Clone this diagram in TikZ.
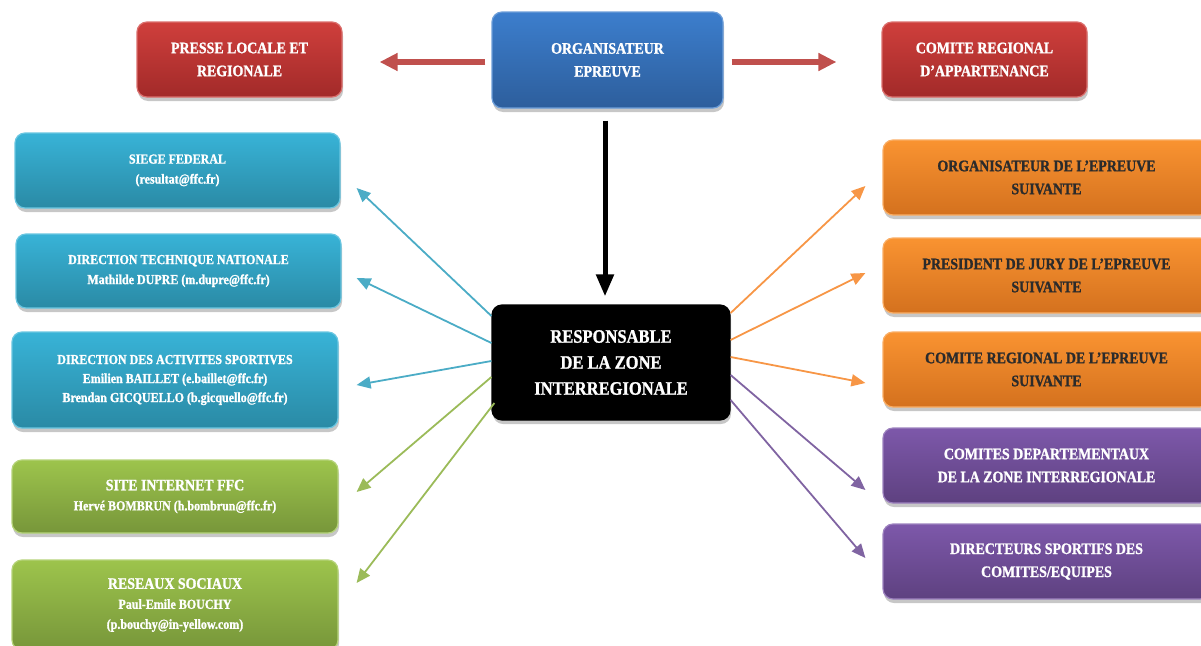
\documentclass[tikz,border=0pt]{standalone}
\usepackage{fontspec}
\setmainfont[FakeStretch=0.87, BoldFeatures={FakeBold=1.2}]{Liberation Serif}
\usetikzlibrary{arrows.meta,shadows,calc}
\definecolor{redT}{HTML}{CF3F3C}\definecolor{redB}{HTML}{A22A29}
\definecolor{bluT}{HTML}{3C7ECD}\definecolor{bluB}{HTML}{2D5E9C}
\definecolor{cyaT}{HTML}{38B3D7}\definecolor{cyaB}{HTML}{2A8AA5}
\definecolor{grnT}{HTML}{9DC44C}\definecolor{grnB}{HTML}{77963A}
\definecolor{oraT}{HTML}{F99331}\definecolor{oraB}{HTML}{D4711E}
\definecolor{purT}{HTML}{7D58AA}\definecolor{purB}{HTML}{5E4180}
\definecolor{aRed}{HTML}{C0504D}\definecolor{aBlue}{HTML}{4BACC6}
\definecolor{aGreen}{HTML}{9BBB59}\definecolor{aOrange}{HTML}{F79646}
\definecolor{aPurple}{HTML}{8064A2}\definecolor{darktext}{HTML}{2B2B2B}
\begin{document}
\begin{tikzpicture}[x=1pt,y=-1pt,
  box/.style={rounded corners=10pt, align=center, inner sep=0pt, text=white,
    line width=1.2pt,
    drop shadow={shadow xshift=1pt, shadow yshift=-4pt, fill=black, opacity=0.22}},
  redbox/.style={box, top color=redT, bottom color=redB, draw=redT!75!white, minimum width=205pt, minimum height=75pt},
  blubox/.style={box, top color=bluT, bottom color=bluB, draw=bluT!75!white},
  cyabox/.style={box, top color=cyaT, bottom color=cyaB, draw=cyaT!75!white, minimum width=326pt},
  grnbox/.style={box, top color=grnT, bottom color=grnB, draw=grnT!75!white, minimum width=326pt},
  orabox/.style={box, top color=oraT, bottom color=oraB, draw=oraT!75!white, minimum width=327pt, minimum height=75pt, text=darktext},
  purbox/.style={box, top color=purT, bottom color=purB, draw=purT!75!white, minimum width=327pt, minimum height=75pt},
  blkbox/.style={box, fill=black, draw=black, minimum width=238pt, minimum height=115pt},
  fbig/.style={font=\bfseries\fontsize{16}{23}\selectfont},
  fsmall/.style={font=\bfseries\fontsize{13.8}{20}\selectfont},
  thin/.style={line width=1.8pt, -{Triangle[length=14pt,width=12pt]}},
  thick/.style={line width=5.5pt, -{Triangle[length=18pt,width=17pt]}},
]
\useasboundingbox (0,0) rectangle (1201,645);

% top row
\node[redbox, fbig] (presse) at (239.5,59.5) {PRESSE LOCALE ET\\REGIONALE};
\node[blubox, fbig, minimum width=231pt, minimum height=96pt] (org) at (607.5,60) {ORGANISATEUR\\EPREUVE};
\node[redbox, fbig] (comite) at (984.5,59.5) {COMITE REGIONAL\\D’APPARTENANCE};

% center
\node[blkbox, font=\bfseries\fontsize{19}{26}\selectfont] (resp) at (611,362.5) {RESPONSABLE\\DE LA ZONE\\INTERREGIONALE};

% left column
\node[cyabox, fsmall, minimum width=325pt, minimum height=75pt] (siege) at (177.5,170.5) {SIEGE FEDERAL\\(resultat@ffc.fr)};
\node[cyabox, fsmall, minimum width=325pt, minimum height=74pt] (dtn) at (178.5,271) {DIRECTION TECHNIQUE NATIONALE\\Mathilde DUPRE (m.dupre@ffc.fr)};
\node[cyabox, font=\bfseries\fontsize{13.8}{19}\selectfont, minimum height=96pt] (das) at (175,380) {DIRECTION DES ACTIVITES SPORTIVES\\Emilien BAILLET (e.baillet@ffc.fr)\\Brendan GICQUELLO (b.gicquello@ffc.fr)};
\node[grnbox, fsmall, minimum height=73pt] (site) at (175,496.5) {{\fontsize{16}{20}\selectfont SITE INTERNET FFC}\\Hervé BOMBRUN (h.bombrun@ffc.fr)};
\node[grnbox, fsmall, minimum height=90pt] (reseaux) at (175,605) {{\fontsize{16}{20}\selectfont RESEAUX SOCIAUX}\\Paul-Emile BOUCHY\\(p.bouchy@in-yellow.com)};

% right column
\node[orabox, fbig] (osuiv) at (1046.5,177.5) {ORGANISATEUR DE L’EPREUVE\\SUIVANTE};
\node[orabox, fbig] (pres) at (1046.5,275.5) {PRESIDENT DE JURY DE L’EPREUVE\\SUIVANTE};
\node[orabox, fbig] (crsuiv) at (1046.5,369.5) {COMITE REGIONAL DE L’EPREUVE\\SUIVANTE};
\node[purbox, fbig] (cdept) at (1046.5,465.5) {COMITES DEPARTEMENTAUX\\DE LA ZONE INTERREGIONALE};
\node[purbox, fbig] (dirs) at (1046.5,561.5) {DIRECTEURS SPORTIFS DES\\COMITES/EQUIPES};

% thick arrows
\draw[thick, aRed] ($(org.west)+(-6,2)$) -- ($(presse.east)+(37,2.5)$);
\draw[thick, aRed] ($(org.east)+(8,2)$) -- ($(comite.west)+(-45,2.5)$);
\draw[line width=5pt, black, -{Triangle[length=22pt,width=17pt]}] ($(org.south)+(-2.5,12)$) -- ($(resp.north)+(-6,-8)$);

% left arrows
\draw[thin, aBlue] ($(resp.west)+(0,-46.5)$) -- ($(siege.east)+(16,17.5)$);
\draw[thin, aBlue] ($(resp.west)+(0,-19.5)$) -- ($(dtn.east)+(15,7)$);
\draw[thin, aBlue] ($(resp.west)+(0,-1.5)$) -- ($(das.east)+(18,5)$);
\draw[thin, aGreen] ($(resp.west)+(0,14.5)$) -- ($(site.east)+(18,-4.5)$);
\draw[thin, aGreen] ($(resp.west)+(3,40.5)$) -- ($(reseaux.east)+(18,-22)$);

% right arrows
\draw[thin, aOrange] ($(resp.east)+(0,-49.5)$) -- ($(osuiv.west)+(-17,8.5)$);
\draw[thin, aOrange] ($(resp.east)+(0,-22.5)$) -- ($(pres.west)+(-17,-2.5)$);
\draw[thin, aOrange] ($(resp.east)+(0,-5.5)$) -- ($(crsuiv.west)+(-17,13.5)$);
\draw[thin, aPurple] ($(resp.east)+(0,12.5)$) -- ($(cdept.west)+(-17,24.5)$);
\draw[thin, aPurple] ($(resp.east)+(0,37.5)$) -- ($(dirs.west)+(-17,-3.5)$);
\end{tikzpicture}
\end{document}
